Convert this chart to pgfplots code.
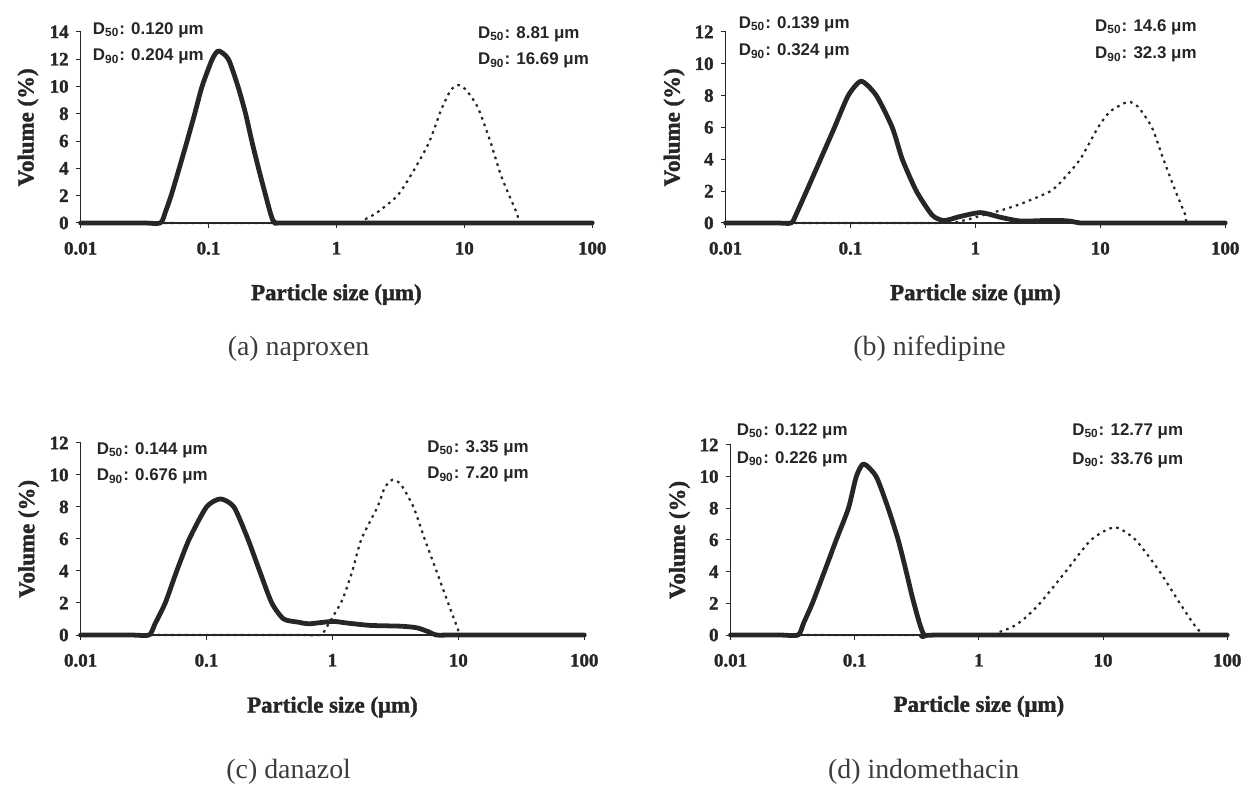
\documentclass[border=0pt]{standalone}
\usepackage{fontspec}
\setmainfont{Liberation Serif}
\setsansfont{Liberation Sans}
\newfontfamily\bserif{Liberation Serif}[FakeBold=1.6]
\usepackage{pgfplots}
\pgfplotsset{compat=1.18}
\definecolor{ink}{HTML}{262626}
\pgfplotsset{
  psd/.style={
    scale only axis, xmin=0.01, xmax=100, ymin=0,
    axis lines=left, axis line style={-, line width=0.6pt, ink},
    xtick={0.01,0.1,1,10,100}, xticklabels={0.01,0.1,1,10,100},
    xminorticks=false,
    tick align=outside, major tick length=2.5pt, tick style={ink, line width=0.5pt},
    /pgf/number format/assume math mode=true,
    tick label style={font=\bserif\bfseries\fontsize{9.5}{10}\selectfont, text=ink},
    xticklabel style={yshift=-3.5pt},
    xlabel={Particle size (μm)}, ylabel={Volume (\%)},
    every axis x label/.style={at={(axis description cs:0.5,-0.375)}, anchor=center,
        font=\bserif\bfseries\fontsize{11.5}{13}\selectfont, text=ink},
    every axis y label/.style={at={(axis description cs:-0.103,0.5)}, rotate=90, anchor=center,
        font=\bserif\bfseries\fontsize{11.5}{13}\selectfont, text=ink},
    clip=false,
  },
  solidpsd/.style={ink, line width=2.4pt, line join=round, line cap=round, smooth, tension=0.4, no markers},
  dotpsd/.style={ink, line width=1.1pt, line join=round, dash pattern=on 1.3pt off 2.2pt, smooth, tension=0.4, no markers},
}
\newcommand{\dd}[3]{D\textsubscript{#1}: #2 μm}
\begin{document}
\begin{tikzpicture}
\begin{scope}[x=0.5pt,y=-0.5pt]
\path[use as bounding box] (0,0) rectangle (1248,803);
\end{scope}

% (a) naproxen
\begin{semilogxaxis}[psd, at={(40.5pt,-112pt)}, anchor=south west, width=257pt, height=96pt,
  ymax=14, ytick={0,2,...,14}]
\addplot[dotpsd] coordinates {(0.01,0) (1.3,0) (1.7,0.3) (2.1,0.8) (3.0,2.0) (4.0,3.8) (5.3,5.9) (6.6,8.3) (7.8,9.7) (8.9,10.1) (10.2,9.8) (12.7,8.5) (15.8,6.1) (19.5,3.4) (25,1.0) (28,0) (40,0) (100,0)};
\addplot[solidpsd] coordinates {(0.01,0) (0.03,0) (0.042,0) (0.046,0.8) (0.051,2) (0.059,4) (0.068,6) (0.078,8) (0.089,10) (0.107,12) (0.12,12.6) (0.143,12) (0.17,10) (0.195,8) (0.218,6) (0.246,4) (0.28,2) (0.31,0.5) (0.335,0) (0.5,0) (100,0)};
\end{semilogxaxis}

% (b) nifedipine
\begin{semilogxaxis}[psd, at={(364.5pt,-112pt)}, anchor=south west, width=251pt, height=96pt,
  ymax=12, ytick={0,2,...,12}]
\addplot[dotpsd] coordinates {(0.01,0) (0.5,0) (0.8,0.15) (1.1,0.45) (1.7,0.85) (2.5,1.3) (4,2) (5,2.7) (6.9,4) (9.6,6) (12,7) (16.6,7.6) (20,7.3) (25.9,6) (32,4) (40,2) (48,0.5) (51,0) (100,0)};
\addplot[solidpsd] coordinates {(0.01,0) (0.025,0) (0.0335,0) (0.037,0.6) (0.0445,2) (0.0576,4) (0.0745,6) (0.096,8) (0.122,8.9) (0.161,8) (0.216,6) (0.26,4) (0.337,2) (0.45,0.5) (0.56,0.15) (0.75,0.4) (1.1,0.65) (1.6,0.35) (2.3,0.12) (3.5,0.15) (5,0.15) (5.9,0.1) (6.9,0) (10,0) (100,0)};
\end{semilogxaxis}

% (c) danazol
\begin{semilogxaxis}[psd, at={(40.5pt,-319pt)}, anchor=south west, width=253pt, height=96.5pt,
  ymax=12, ytick={0,2,...,12}]
\addplot[dotpsd] coordinates {(0.01,0) (0.5,0) (0.8,0) (0.9,0.5) (1.0,1.1) (1.2,2.2) (1.44,4) (1.7,6) (2.28,8) (2.6,9.2) (3.0,9.7) (3.5,9.4) (4.4,8) (5.4,6) (6.7,4) (8.3,2) (9.8,0.5) (10.7,0) (20,0) (100,0)};
\addplot[solidpsd] coordinates {(0.01,0) (0.025,0) (0.035,0) (0.039,0.7) (0.047,2) (0.058,4) (0.073,6) (0.1,8) (0.129,8.5) (0.165,8) (0.213,6) (0.264,4) (0.33,2) (0.41,1) (0.54,0.8) (0.65,0.7) (1.0,0.85) (1.3,0.75) (2,0.6) (3.5,0.55) (4.7,0.45) (5.8,0.2) (6.7,0) (10,0) (100,0)};
\end{semilogxaxis}

% (d) indomethacin
\begin{semilogxaxis}[psd, at={(367pt,-319pt)}, anchor=south west, width=249.5pt, height=95.5pt,
  ymax=12, ytick={0,2,...,12}]
\addplot[dotpsd] coordinates {(0.01,0) (1.0,0) (1.4,0.15) (1.85,0.5) (2.3,1) (3.1,2) (5,4) (8,6) (12.4,6.8) (18.3,6) (28.6,4) (41.6,2) (56,0.5) (67,0) (100,0)};
\addplot[solidpsd] coordinates {(0.01,0) (0.025,0) (0.035,0) (0.039,0.8) (0.0456,2) (0.057,4) (0.071,6) (0.089,8) (0.103,10) (0.118,10.8) (0.149,10) (0.186,8) (0.224,6) (0.26,4) (0.30,2) (0.363,0) (0.5,0) (100,0)};
\end{semilogxaxis}

\begin{scope}[x=0.5pt,y=-0.5pt]
\tikzset{ann/.style={anchor=west, inner sep=0pt, text=ink, font=\sffamily\bfseries\fontsize{8.5}{10}\selectfont},
         capt/.style={anchor=center, text=ink!90, font=\fontsize{14}{16}\selectfont}}
% (a)
\node[ann] at (93,30) {\dd{50}{0.120}{}};
\node[ann] at (93,57) {\dd{90}{0.204}{}};
\node[ann] at (480,34) {\dd{50}{8.81}{}};
\node[ann] at (480,61) {\dd{90}{16.69}{}};
% (b)
\node[ann] at (742,24) {\dd{50}{0.139}{}};
\node[ann] at (742,52) {\dd{90}{0.324}{}};
\node[ann] at (1100,27) {\dd{50}{14.6}{}};
\node[ann] at (1100,55) {\dd{90}{32.3}{}};
% (c)
\node[ann] at (97,452) {\dd{50}{0.144}{}};
\node[ann] at (97,479) {\dd{90}{0.676}{}};
\node[ann] at (429,450) {\dd{50}{3.35}{}};
\node[ann] at (429,477) {\dd{90}{7.20}{}};
% (d)
\node[ann] at (740,433) {\dd{50}{0.122}{}};
\node[ann] at (740,461) {\dd{90}{0.226}{}};
\node[ann] at (1077,433) {\dd{50}{12.77}{}};
\node[ann] at (1077,462) {\dd{90}{33.76}{}};
% captions
\node[capt] at (300,350) {(a) naproxen};
\node[capt] at (934,350) {(b) nifedipine};
\node[capt] at (290,775) {(c) danazol};
\node[capt] at (928,775) {(d) indomethacin};
\end{scope}
\end{tikzpicture}
\end{document}
